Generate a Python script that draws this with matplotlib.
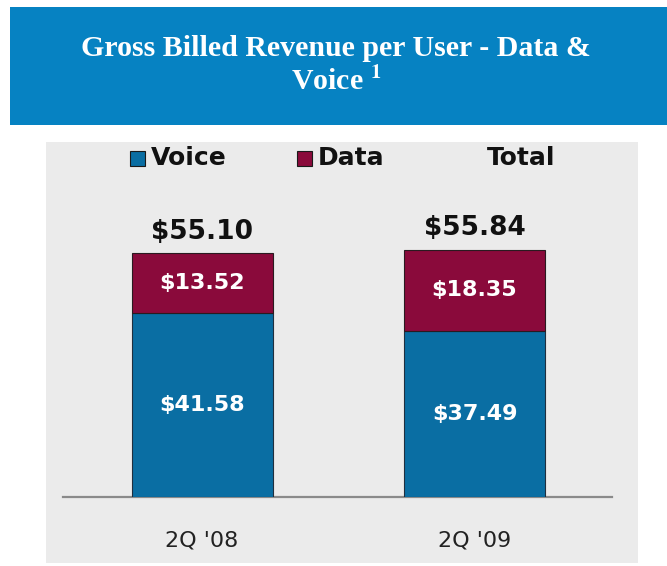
import matplotlib.pyplot as plt
from matplotlib.patches import Rectangle

# data
quarters = ["2Q '08", "2Q '09"]
voice = [41.58, 37.49]
data = [13.52, 18.35]
totals = [55.10, 55.84]

VOICE_COLOR = "#0a6ea3"
DATA_COLOR = "#8a0a3b"
BANNER_COLOR = "#0682c2"
PANEL_COLOR = "#ebebeb"

W, H = 667, 566
plt.rcParams["mathtext.fontset"] = "stix"

fig = plt.figure(figsize=(W / 100, H / 100), dpi=100)


def fx(px):
    return px / W


def fy(py):
    return 1 - py / H


# title banner
fig.patches.append(Rectangle((fx(10), fy(125)), fx(660), (125 - 7) / H,
                             transform=fig.transFigure, facecolor=BANNER_COLOR,
                             edgecolor="none", zorder=-2))
fig.text(fx(336), fy(48), "Gross Billed Revenue per User - Data &", color="white",
         family="Liberation Serif", weight="bold", fontsize=21.5, ha="center", va="center")
fig.text(fx(336), fy(82), r"Voice $^{\mathbf{1}}$", color="white",
         family="Liberation Serif", weight="bold", fontsize=21.5, ha="center", va="center")

# gray panel
fig.patches.append(Rectangle((fx(46), fy(563)), fx(638 - 46), (563 - 142) / H,
                             transform=fig.transFigure, facecolor=PANEL_COLOR,
                             edgecolor="none", zorder=-2))

# legend
for sx, label, col in [(130, "Voice", VOICE_COLOR), (297, "Data", DATA_COLOR)]:
    fig.patches.append(Rectangle((fx(sx), fy(166)), fx(15), 15 / H,
                                 transform=fig.transFigure, facecolor=col,
                                 edgecolor="#1a1a1a", lw=0.8, zorder=2))
    fig.text(fx(sx + 21), fy(158), label, fontsize=18, weight="bold",
             ha="left", va="center", color="#111111")
fig.text(fx(555), fy(158), "Total", fontsize=18, weight="bold",
         ha="right", va="center", color="#111111")

# bar axes: baseline at y=497px, x from 63 to 612px
px_per_unit = 4.43
ax_bottom, ax_top = 497, 142
ax = fig.add_axes([fx(63), fy(ax_bottom), fx(612 - 63), (ax_bottom - ax_top) / H],
                  zorder=1)
ax.set_facecolor("none")
ax.set_ylim(0, (ax_bottom - ax_top) / px_per_unit)
unit_x = 474.5 - 202
ax.set_xlim(-(202 - 63) / unit_x, 1 + (612 - 474.5) / unit_x)
bar_w = 141 / unit_x

xs = list(range(len(quarters)))
ax.bar(xs, voice, width=bar_w, color=VOICE_COLOR, edgecolor="#1f2f3f", lw=0.8, zorder=3)
ax.bar(xs, data, width=bar_w, bottom=voice, color=DATA_COLOR, edgecolor="#2a1a20",
       lw=0.8, zorder=3)
ax.axhline(0, color="#8a8a8a", lw=1.6, zorder=2, clip_on=False)

for x, v, d, t in zip(xs, voice, data, totals):
    ax.text(x, v / 2, f"${v:.2f}", color="white", fontsize=16, weight="bold",
            ha="center", va="center", zorder=4)
    ax.text(x, v + d / 2, f"${d:.2f}", color="white", fontsize=16, weight="bold",
            ha="center", va="center", zorder=4)
    ax.annotate(f"${t:.2f}", (x, t), xytext=(0, 6), textcoords="offset points",
                fontsize=19, weight="bold", ha="center", va="bottom", color="#111111")

ax.set_xticks(xs)
ax.set_xticklabels(quarters, fontsize=16, color="#222222")
ax.tick_params(axis="x", length=0, pad=24)
ax.set_yticks([])
for s in ax.spines.values():
    s.set_visible(False)

fig.savefig("out.png", dpi=100)
